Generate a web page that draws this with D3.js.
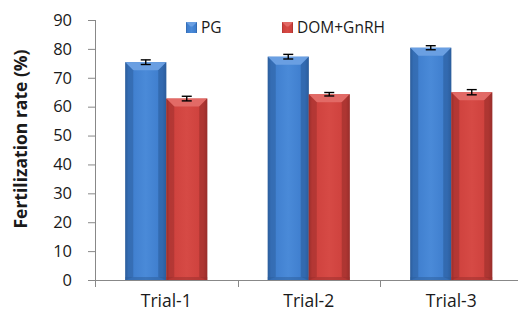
<!DOCTYPE html>
<html><head><meta charset="utf-8">
<script src="https://cdn.jsdelivr.net/npm/d3@7"></script>
<style>body{margin:0;background:#fff}svg{display:block}text{font-family:"Open Sans",sans-serif;fill:#1a1a1a}</style>
</head><body><svg id="c" width="518" height="320"></svg>
<script>
const categories = ["Trial-1","Trial-2","Trial-3"];
const seriesNames = ["PG","DOM+GnRH"];
const pgValues = [75.4, 77.3, 80.4];
const pgErrors = [0.8, 0.8, 0.7];
const domValues = [62.8, 64.3, 65.0];
const domErrors = [0.8, 0.6, 0.9];
const yTicks = [0,10,20,30,40,50,60,70,80,90];

const svg = d3.select("#c");
const L = 95, R = 522.5, T = 20, B = 280;
const x0 = d3.scaleBand().domain(categories).range([L,R]).paddingInner(0).paddingOuter(0);
const x1 = d3.scaleBand().domain(seriesNames).range([0,x0.bandwidth()]).paddingInner(0).paddingOuter(0.738);
const y = d3.scaleLinear().domain([0,90]).range([B,T]);

const defs = svg.append("defs");
const pal = {
  "PG": {edge:"#2c5d9c", mid:"#3d7ccc", light:"#4a8ad8", top:"#6a9fe2"},
  "DOM+GnRH": {edge:"#9a2e2b", mid:"#cd403c", light:"#d64a45", top:"#e26a66"}
};
seriesNames.forEach((s,i)=>{
  const g = defs.append("linearGradient").attr("id","g"+i).attr("x1","0").attr("x2","1").attr("y1","0").attr("y2","0");
  g.append("stop").attr("offset","0").attr("stop-color",pal[s].edge);
  g.append("stop").attr("offset","0.08").attr("stop-color",pal[s].mid);
  g.append("stop").attr("offset","0.5").attr("stop-color",pal[s].light);
  g.append("stop").attr("offset","0.9").attr("stop-color",pal[s].mid);
  g.append("stop").attr("offset","1").attr("stop-color",pal[s].edge);
});

const data = [];
categories.forEach((c,i)=>{
  data.push({c, s:"PG", v:pgValues[i], e:pgErrors[i], si:0});
  data.push({c, s:"DOM+GnRH", v:domValues[i], e:domErrors[i], si:1});
});

const bars = svg.append("g");
data.forEach(d=>{
  const bx = x0(d.c)+x1(d.s), bw = x1.bandwidth(), by = y(d.v), bh = y(0)-y(d.v);
  const g = bars.append("g");
  g.append("rect").attr("x",bx).attr("y",by).attr("width",bw).attr("height",bh).attr("fill",`url(#g${d.si})`);
  const bev = 8;
  g.append("path").attr("d",`M${bx},${by}L${bx+bw},${by}L${bx+bw-bev},${by+bev}L${bx+bev},${by+bev}Z`).attr("fill",pal[d.s].top);
  g.append("path").attr("d",`M${bx},${by}L${bx+bev},${by+bev}L${bx+bev},${y(0)-3}L${bx},${y(0)}Z`).attr("fill",pal[d.s].edge).attr("opacity",0.5);
  g.append("path").attr("d",`M${bx+bw},${by}L${bx+bw-bev},${by+bev}L${bx+bw-bev},${y(0)-3}L${bx+bw},${y(0)}Z`).attr("fill",pal[d.s].edge).attr("opacity",0.6);
  g.append("rect").attr("x",bx).attr("y",y(0)-3).attr("width",bw).attr("height",3).attr("fill",pal[d.s].edge).attr("opacity",0.5);
  const cx = bx+bw/2, cw = 5;
  g.append("line").attr("x1",cx).attr("x2",cx).attr("y1",y(d.v+d.e)).attr("y2",y(d.v-d.e)).attr("stroke","#000").attr("stroke-width",1.4);
  g.append("line").attr("x1",cx-cw).attr("x2",cx+cw).attr("y1",y(d.v+d.e)).attr("y2",y(d.v+d.e)).attr("stroke","#000").attr("stroke-width",1.4);
  g.append("line").attr("x1",cx-cw).attr("x2",cx+cw).attr("y1",y(d.v-d.e)).attr("y2",y(d.v-d.e)).attr("stroke","#000").attr("stroke-width",1.4);
});

const ya = svg.append("g").attr("transform",`translate(${L},0)`)
  .call(d3.axisLeft(y).tickValues(yTicks).tickSize(7).tickPadding(16).tickSizeOuter(0));
ya.select(".domain").attr("stroke","#888").attr("d",`M0.5,${T}V${B}`);
ya.selectAll(".tick line").attr("stroke","#888");
ya.selectAll("text").style("font-size","16.5px").attr("fill","#1a1a1a").attr("font-family","Open Sans");

const xa = svg.append("g").attr("transform",`translate(0,${B})`)
  .call(d3.axisBottom(x0).tickSize(0).tickPadding(15).tickSizeOuter(0));
xa.select(".domain").attr("stroke","#888");
xa.selectAll("text").style("font-size","17.5px").attr("fill","#1a1a1a").attr("font-family","Open Sans");
const edges = categories.map(c=>x0(c)).concat([R]);
xa.selectAll(".edge").data(edges).join("line").attr("class","edge")
  .attr("x1",d=>Math.round(d)+0.5).attr("x2",d=>Math.round(d)+0.5).attr("y1",0).attr("y2",7).attr("stroke","#888");

svg.append("text").attr("transform",`translate(27,139) rotate(-90)`).attr("text-anchor","middle")
  .style("font-size","17.5px").style("font-weight","bold").text("Fertilization rate (%)");

const legX = [186, 282];
seriesNames.forEach((s,i)=>{
  const g = svg.append("g").attr("transform",`translate(${legX[i]},22)`);
  g.append("rect").attr("width",11).attr("height",11).attr("fill",`url(#g${i})`);
  g.append("path").attr("d","M0,0L11,0L6.5,4.5L4.5,4.5Z").attr("fill",pal[s].top);
  g.append("text").attr("x",15).attr("y",11).style("font-size","15.5px").text(s);
});
</script></body></html>
